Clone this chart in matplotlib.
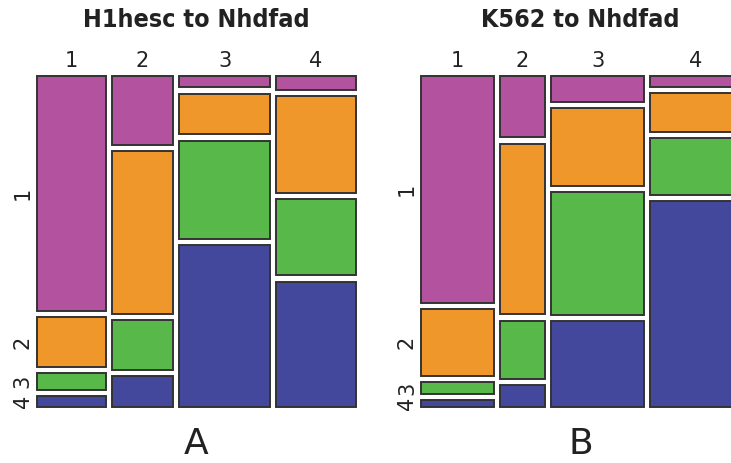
import matplotlib
matplotlib.use("Agg")
import matplotlib.pyplot as plt
from matplotlib.patches import Rectangle
import numpy as np

# Data: rows = category 1..4 (top to bottom), columns = column category 1..4
categories = ["1", "2", "3", "4"]
titles = ["H1hesc to Nhdfad", "K562 to Nhdfad"]
panel_labels = ["A", "B"]

counts_a = np.array([
    [1725, 456, 113, 120],
    [369, 1068, 389, 826],
    [120, 324, 942, 647],
    [78, 203, 1556, 1066],
])
counts_b = np.array([
    [1758, 298, 259, 108],
    [517, 823, 771, 370],
    [91, 279, 1223, 536],
    [49, 105, 847, 1965],
])
colors = ["#B3539F", "#EF972B", "#58B849", "#43489C"]

W, H = 731, 463
fig = plt.figure(figsize=(W / 100, H / 100), dpi=100)

def px_axes(left, top, right, bottom):
    return fig.add_axes([left / W, 1 - bottom / H, (right - left) / W, (bottom - top) / H])

panels = [
    (counts_a, (36.7, 75.7, 355.7, 406.7)),
    (counts_b, (421.0, 75.7, 740.0, 406.7)),
]

for i, (counts, box) in enumerate(panels):
    ax = px_axes(*box)
    ax.set_xlim(0, 1)
    ax.set_ylim(0, 1)
    ax.axis("off")
    wpx = box[2] - box[0]
    hpx = box[3] - box[1]
    gx = 6.0 / wpx
    gy = 6.3 / hpx
    col_tot = counts.sum(axis=0)
    shares = col_tot / col_tot.sum()
    ncol = len(col_tot)
    avail_w = 1 - gx * (ncol - 1)
    x = 0.0
    for j in range(ncol):
        w = shares[j] * avail_w
        fr = counts[:, j] / counts[:, j].sum()
        avail_h = 1 - gy * (len(fr) - 1)
        ytop = 1.0
        for k in range(len(fr)):
            h = fr[k] * avail_h
            ax.add_patch(Rectangle((x, ytop - h), w, h, facecolor=colors[k],
                                   edgecolor="#333333", linewidth=1.4, clip_on=False))
            if j == 0:
                ax.text(-4.0 / wpx, ytop - h / 2, categories[k], rotation=90,
                        ha="right", va="center", fontsize=15, color="#222222")
            ytop -= h + gy
        ax.text(x + w / 2, 1 + 4.5 / hpx, categories[j], ha="center", va="bottom",
                fontsize=15, color="#222222")
        x += w + gx
    cx = (box[0] + box[2]) / 2
    fig.text(cx / W, 1 - 20 / H, titles[i], ha="center", va="center",
             fontsize=18, fontweight="bold", fontstretch="condensed",
             color="#222222")
    fig.text(cx / W, 1 - 454 / H, panel_labels[i], ha="center", va="baseline",
             fontsize=26, color="#222222")

fig.savefig("out.png", dpi=100)
